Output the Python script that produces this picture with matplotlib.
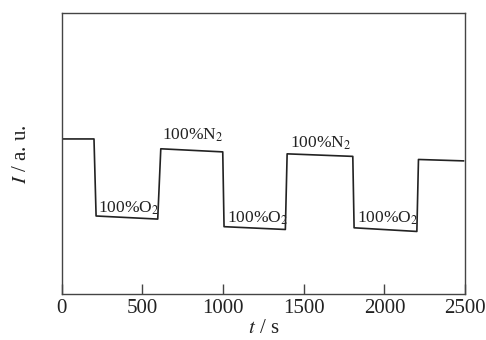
import matplotlib
matplotlib.use("Agg")
import matplotlib.pyplot as plt

plt.rcParams["font.family"] = ["Liberation Serif", "DejaVu Serif"]
plt.rcParams["mathtext.fontset"] = "stix"

# step trace of intensity vs time (switching gas atmosphere)
t = [0, 200, 213, 595, 614, 998, 1006, 1386, 1397, 1804, 1812, 2201, 2211, 2490]
intensity = [55.3, 55.3, 27.9, 26.8, 51.8, 50.7, 24.1, 23.1, 50.0, 49.1, 23.7, 22.4, 48.0, 47.5]

# annotations: text, left x, baseline y
labels = ["100%O$_2$", "100%N$_2$", "100%O$_2$", "100%N$_2$", "100%O$_2$"]
label_t = [225, 620, 1023, 1416, 1829]
label_y = [29.0, 54.9, 25.5, 52.2, 25.5]

xticks = [0, 500, 1000, 1500, 2000, 2500]

fig = plt.figure(figsize=(4.86, 3.4), dpi=100)
ax = fig.add_axes([0.127, 0.134, 0.830, 0.827])

ax.plot(t, intensity, color="#222222", lw=1.2)
for s, x, y in zip(labels, label_t, label_y):
    ax.text(x, y, s, fontsize=12.5, color="#222222", ha="left", va="baseline")

ax.set_xlim(0, 2500)
ax.set_ylim(0, 100)
ax.set_xticks(xticks)
ax.set_yticks([])
ax.tick_params(axis="x", direction="in", length=7, width=1.0, color="#444444",
               labelsize=15, pad=3, labelcolor="#222222")
for sp in ax.spines.values():
    sp.set_color("#444444")
    sp.set_linewidth(1.0)

ax.set_xlabel("$t$ / s", fontsize=15, labelpad=1, color="#222222")
ax.set_ylabel("$I$ / a. u.", fontsize=15, labelpad=22, color="#222222")

fig.savefig("out.png", dpi=100)
